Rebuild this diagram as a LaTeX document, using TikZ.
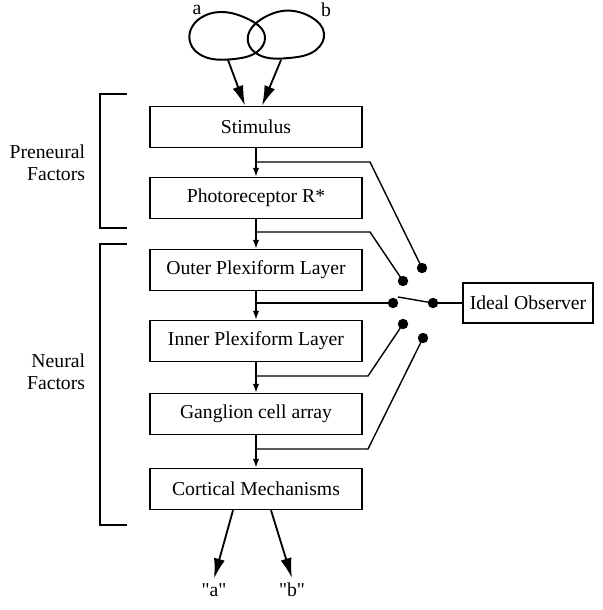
\documentclass[tikz,border=0pt]{standalone}
\usepackage{fontspec}
\setmainfont{Liberation Serif}
\usetikzlibrary{arrows.meta}
\usetikzlibrary{hobby}
\tikzstyle{layer}=[draw, line width=1pt, inner sep=0pt, minimum width=5.3cm, minimum height=1.03cm, font=\fontsize{14}{16}\selectfont]
\tikzstyle{label}=[font=\fontsize{14}{16}\selectfont]
\tikzstyle{flow}=[line width=1pt, -{Latex[length=2.2mm,width=1.6mm]}]
\tikzstyle{big}=[line width=1.3pt, -{Latex[length=5mm,width=2.8mm]}]
\tikzstyle{tap}=[line width=1pt]
\tikzstyle{dot}=[circle, fill, inner sep=0pt, minimum size=2.6mm]

\begin{document}
\begin{tikzpicture}[x=0.025cm, y=-0.025cm]
          \useasboundingbox (0,0) rectangle (603,610);
          % the two stimuli
          \draw[use Hobby shortcut, closed=true, line width=1.4pt]
            (190,42) .. (222,12) .. (250,20) .. (265,37)
            .. (257,52) .. (234,59) .. (205,57);
          \draw[use Hobby shortcut, closed=true, line width=1.4pt]
            (248,42) .. (265,17) .. (282,11) .. (311,17)
            .. (324,33) .. (316,50) .. (289,58) .. (259,55);
          \node[label] (a) at (197,10) {a};
          \node[label] (b) at (326,10) {b};
          \coordinate (ta) at (228,60);
          \coordinate (tb) at (281,60);

          % processing stages
          \node[layer] (stim) at (256,127) {Stimulus};
          \node[layer] (photo) at (256,198) {Photoreceptor R*};
          \node[layer] (opl) at (256,270) {Outer Plexiform Layer};
          \node[layer] (ipl) at (256,341) {Inner Plexiform Layer};
          \node[layer] (gca) at (256,414) {Ganglion cell array};
          \node[layer] (cort) at (256,489) {Cortical Mechanisms};
          \node[draw, line width=1pt, inner sep=0pt, minimum width=3.25cm,
            minimum height=1cm, label] (obs) at (528,303) {Ideal Observer};

          \draw[big] (ta) -- ([xshift=-2.75mm]stim.north);
          \draw[big] (tb) -- ([xshift=1.5mm]stim.north);
          \draw[flow] (stim) -- (photo);
          \draw[flow] (photo) -- (opl);
          \draw[flow] (opl) -- (ipl);
          \draw[flow] (ipl) -- (gca);
          \draw[flow] (gca) -- (cort);

          % taps to the switch
          \node[dot] (d1) at (422,268) {};
          \node[dot] (d2) at (403,281) {};
          \node[dot] (s0) at (393,303) {};
          \node[dot] (s1) at (433,303) {};
          \node[dot] (d3) at (403,324) {};
          \node[dot] (d4) at (423,338) {};
          \coordinate (t1) at (256,162);
          \coordinate (t2) at (256,232);
          \coordinate (t0) at (256,303);
          \coordinate (t3) at (256,376);
          \coordinate (t4) at (256,449);
          \coordinate (lever) at (398,297);
          \draw[tap] (t1) -- (370,162) -- (d1.center);
          \draw[tap] (t2) -- (370,232) -- (d2.center);
          \draw[tap] (t0) -- (s0.center);
          \draw[tap] (t3) -- (368,376) -- (d3.center);
          \draw[tap] (t4) -- (368,449) -- (d4.center);
          \draw[tap] (s1.center) -- (lever);
          \draw[tap] (s1.center) -- (obs.west);

          % brackets
          \draw[line width=0.8pt] (127,94) -- (100,94) -- (100,228) -- (127,228);
          \draw[line width=0.8pt] (127,244) -- (100,244) -- (100,525) -- (127,525);
          \node[label, align=right, anchor=east] (pre) at (90,163) {Preneural\\Factors};
          \node[label, align=right, anchor=east] (neu) at (90,372) {Neural\\Factors};

          % responses
          \node[label] (qa) at (214,590) {\textquotedbl a\textquotedbl};
          \node[label] (qb) at (292,590) {\textquotedbl b\textquotedbl};
          \draw[big] ([xshift=-5.75mm]cort.south) -- (qa.north);
          \draw[big] ([xshift=3.75mm]cort.south) -- (qb.north);
        \end{tikzpicture}
\end{document}
